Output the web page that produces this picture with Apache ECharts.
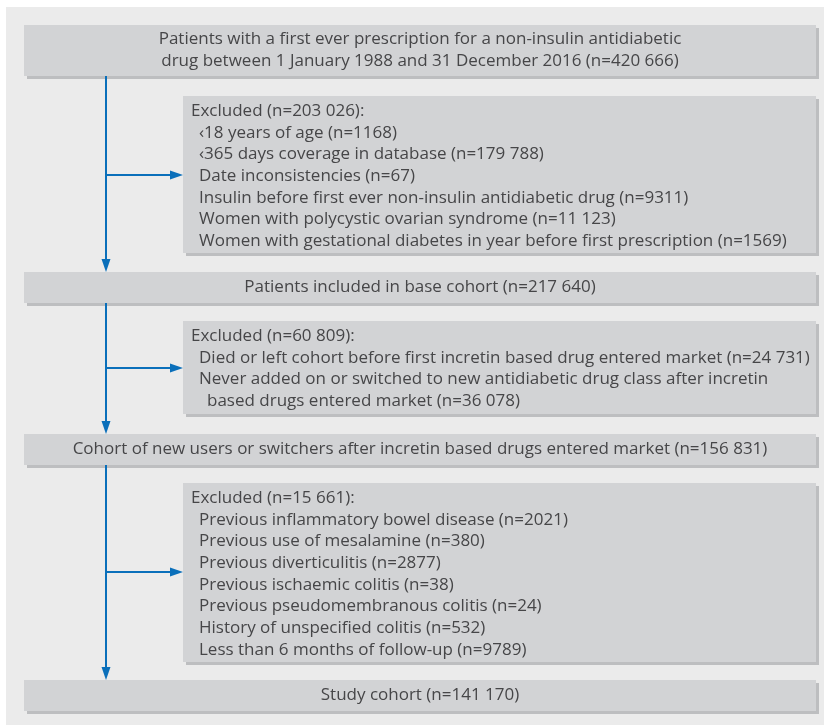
<!DOCTYPE html>
<html><head><meta charset="utf-8">
<script src="https://cdn.jsdelivr.net/npm/echarts@6/dist/echarts.min.js"></script>
<style>html,body{margin:0;padding:0;background:#fff}#c{width:824px;height:725px}</style>
</head><body><div id="c"></div>
<script>
var topBoxLines = ["Patients with a first ever prescription for a non-insulin antidiabetic",
  "drug between 1 January 1988 and 31 December 2016 (n=420 666)"];
var excluded1Title = "Excluded (n=203 026):";
var excluded1Items = ["‹18 years of age (n=1168)",
  "‹365 days coverage in database (n=179 788)",
  "Date inconsistencies (n=67)",
  "Insulin before first ever non-insulin antidiabetic drug (n=9311)",
  "Women with polycystic ovarian syndrome (n=11 123)",
  "Women with gestational diabetes in year before first prescription (n=1569)"];
var baseCohortText = "Patients included in base cohort (n=217 640)";
var excluded2Title = "Excluded (n=60 809):";
var excluded2Items = ["Died or left cohort before first incretin based drug entered market (n=24 731)",
  "Never added on or switched to new antidiabetic drug class after incretin",
  "  based drugs entered market (n=36 078)"];
var cohortText = "Cohort of new users or switchers after incretin based drugs entered market (n=156 831)";
var excluded3Title = "Excluded (n=15 661):";
var excluded3Items = ["Previous inflammatory bowel disease (n=2021)",
  "Previous use of mesalamine (n=380)",
  "Previous diverticulitis (n=2877)",
  "Previous ischaemic colitis (n=38)",
  "Previous pseudomembranous colitis (n=24)",
  "History of unspecified colitis (n=532)",
  "Less than 6 months of follow-up (n=9789)"];
var studyCohortText = "Study cohort (n=141 170)";

var FONT = '"Open Sans", "Noto Sans", sans-serif';
var FS = 17, LH = 21.7, TXT = '#464648';
var BOX = '#d2d3d5', SHADOW = '#bdbec0', BG = '#ebebeb', BLUE = '#0a6fba';
var els = [];
els.push({type:'rect', shape:{x:6,y:7,width:818,height:718}, style:{fill:BG}, silent:true});
function box(x0,y0,x1,y1){
  els.push({type:'rect', shape:{x:x0+3,y:y0+3,width:x1-x0,height:y1-y0}, style:{fill:SHADOW}, silent:true});
  els.push({type:'rect', shape:{x:x0,y:y0,width:x1-x0,height:y1-y0}, style:{fill:BOX}, silent:true});
}
function txt(s,x,y,align){
  els.push({type:'text', x:x, y:y, style:{text:s, fill:TXT, font:'normal '+FS+'px '+FONT, textAlign:align||'left', textVerticalAlign:'middle'}, silent:true});
}
function centered(lines,y0,y1){
  var cy=(y0+y1)/2, n=lines.length;
  lines.forEach(function(l,i){ txt(l,420,cy+(i-(n-1)/2)*LH,'center'); });
}
function excl(title,items,y0,y1,firstY){
  box(183,y0,816,y1);
  txt(title,191,firstY);
  items.forEach(function(l,i){
    var ind = l.indexOf('  ')===0 ? 207 : 199;
    txt(l.trim(),ind,firstY+(i+1)*LH);
  });
}
function vline(y0,y1){
  els.push({type:'line', shape:{x1:106,y1:y0,x2:106,y2:y1-11}, style:{stroke:BLUE,lineWidth:2}, silent:true});
  els.push({type:'polygon', shape:{points:[[101.5,y1-13],[110.5,y1-13],[106,y1]]}, style:{fill:BLUE}, silent:true});
}
function hline(y){
  els.push({type:'line', shape:{x1:106,y1:y,x2:172,y2:y}, style:{stroke:BLUE,lineWidth:2}, silent:true});
  els.push({type:'polygon', shape:{points:[[170,y-4.5],[170,y+4.5],[183,y]]}, style:{fill:BLUE}, silent:true});
}
box(24,25,816,76); centered(topBoxLines,25,76);
excl(excluded1Title,excluded1Items,96,253,111);
box(24,272,816,303); centered([baseCohortText],272,303);
excl(excluded2Title,excluded2Items,321,414,336);
box(24,434,816,465); centered([cohortText],434,465);
excl(excluded3Title,excluded3Items,483,662,498);
box(24,680,816,711); centered([studyCohortText],680,711);
vline(76,272); vline(303,434); vline(465,680);
hline(175); hline(368); hline(572);

var chart = echarts.init(document.getElementById('c'), null, {renderer:'canvas'});
chart.setOption({animation:false, graphic:{elements:els}});
</script></body></html>
